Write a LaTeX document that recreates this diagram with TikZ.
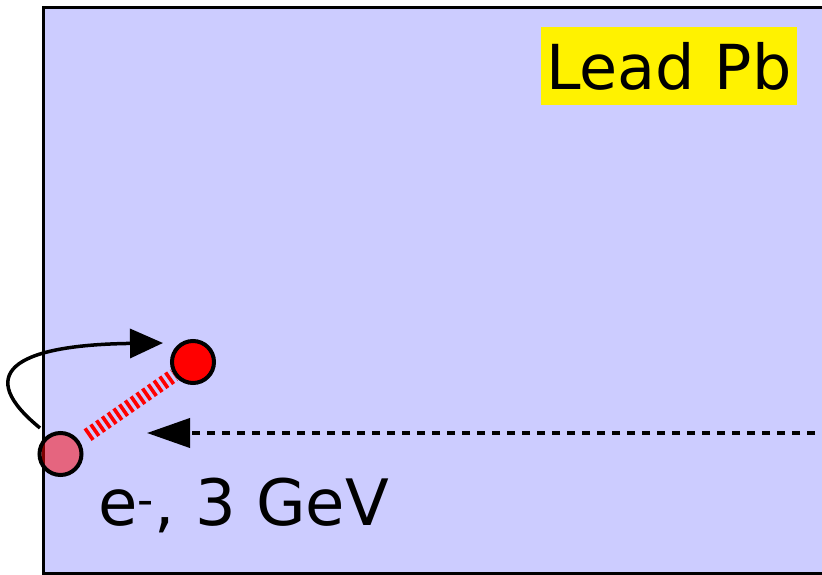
\documentclass[tikz,border=0pt]{standalone}
\usepackage{fontspec}
\setmainfont{DejaVu Sans}
\usetikzlibrary{arrows.meta}

\tikzset{
  particle/.style={circle,draw,line width=4pt,minimum size=42pt,inner sep=0pt},
  photon/.style={red,line width=14pt,dash pattern=on 3.6pt off 3.4pt},
  beam/.style={line width=4pt,dash pattern=on 8pt off 7pt,-{Triangle[length=43pt,width=29pt]}},
}

\begin{document}
\begin{tikzpicture}[x=1pt,y=-1pt,font=\fontsize{62}{70}\selectfont]
\clip (0,0) rectangle (822,575);
% lead block, open to the right
\fill[blue!20] (43.5,7.5) rectangle (830,574);
\draw[line width=3.5pt] (830,574) -- (43.5,574) -- (43.5,7.5) -- (830,7.5);
\node[fill=yellow,inner sep=0pt,minimum width=256pt,minimum height=78pt] (mat) at (669,66) {Lead Pb};
% incoming electron
\coordinate (in) at (830,433);
\coordinate (hit) at (147,433);
\draw[beam] (in) -- (hit);
% positron and electron of the pair
\node[particle,fill=red,fill opacity=0.5,draw opacity=1] (pos) at (60.5,454) {};
\node[particle,fill=red] (neg) at (193,362) {};
\draw[photon,shorten <=10pt] (pos) -- (neg);
% back-scattered track
\coordinate (kick) at (40,428);
\coordinate (tip) at (163,343);
\draw[line width=3.5pt,-{Triangle[length=33pt,width=29pt]}] (kick) .. controls (-25,375) and (10,345) .. (tip);
\node[anchor=base west,font=\fontsize{64}{72}\selectfont] (lbl) at (95,525) {e\textsuperscript{-}, 3 GeV};
\end{tikzpicture}
\end{document}
